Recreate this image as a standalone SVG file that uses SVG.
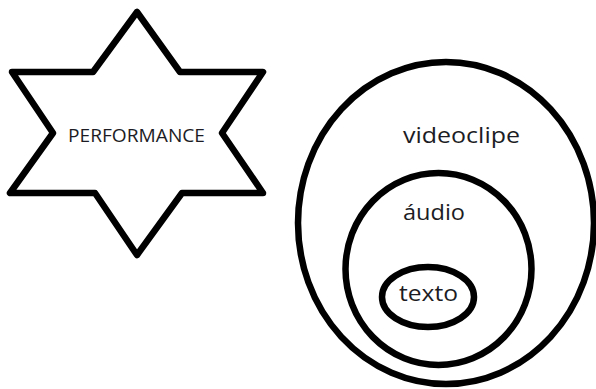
<svg xmlns="http://www.w3.org/2000/svg" width="596" height="389" viewBox="0 0 596 389">
  <style>
    .shape { fill: none; stroke: #000; stroke-width: 6.5; stroke-linejoin: round; }
    .label { font-family: "Open Sans", "Liberation Sans", sans-serif; fill: #1c1c24; }
  </style>
  <rect width="596" height="389" fill="#fff"/>

  <!-- six-pointed star -->
  <g id="performance">
    <polygon class="shape" points="137,12 93,72 12,72 53,133 10,193 95,193 137,255 182,193 263,193 222,133 263,72 180,72"/>
    <text class="label" x="68" y="142" font-size="18" textLength="137" lengthAdjust="spacingAndGlyphs">PERFORMANCE</text>
  </g>

  <!-- nested ellipses -->
  <g id="videoclipe">
    <ellipse class="shape" cx="446" cy="223" rx="148" ry="161"/>
    <text class="label" x="403" y="143" font-size="21" textLength="117" lengthAdjust="spacingAndGlyphs">videoclipe</text>
  </g>
  <g id="audio">
    <ellipse class="shape" cx="438.5" cy="269" rx="93" ry="96"/>
    <text class="label" x="403" y="220" font-size="21" textLength="62" lengthAdjust="spacingAndGlyphs">áudio</text>
  </g>
  <g id="texto">
    <ellipse class="shape" cx="428" cy="297" rx="46" ry="30"/>
    <text class="label" x="399" y="301" font-size="21" textLength="59" lengthAdjust="spacingAndGlyphs">texto</text>
  </g>
</svg>
